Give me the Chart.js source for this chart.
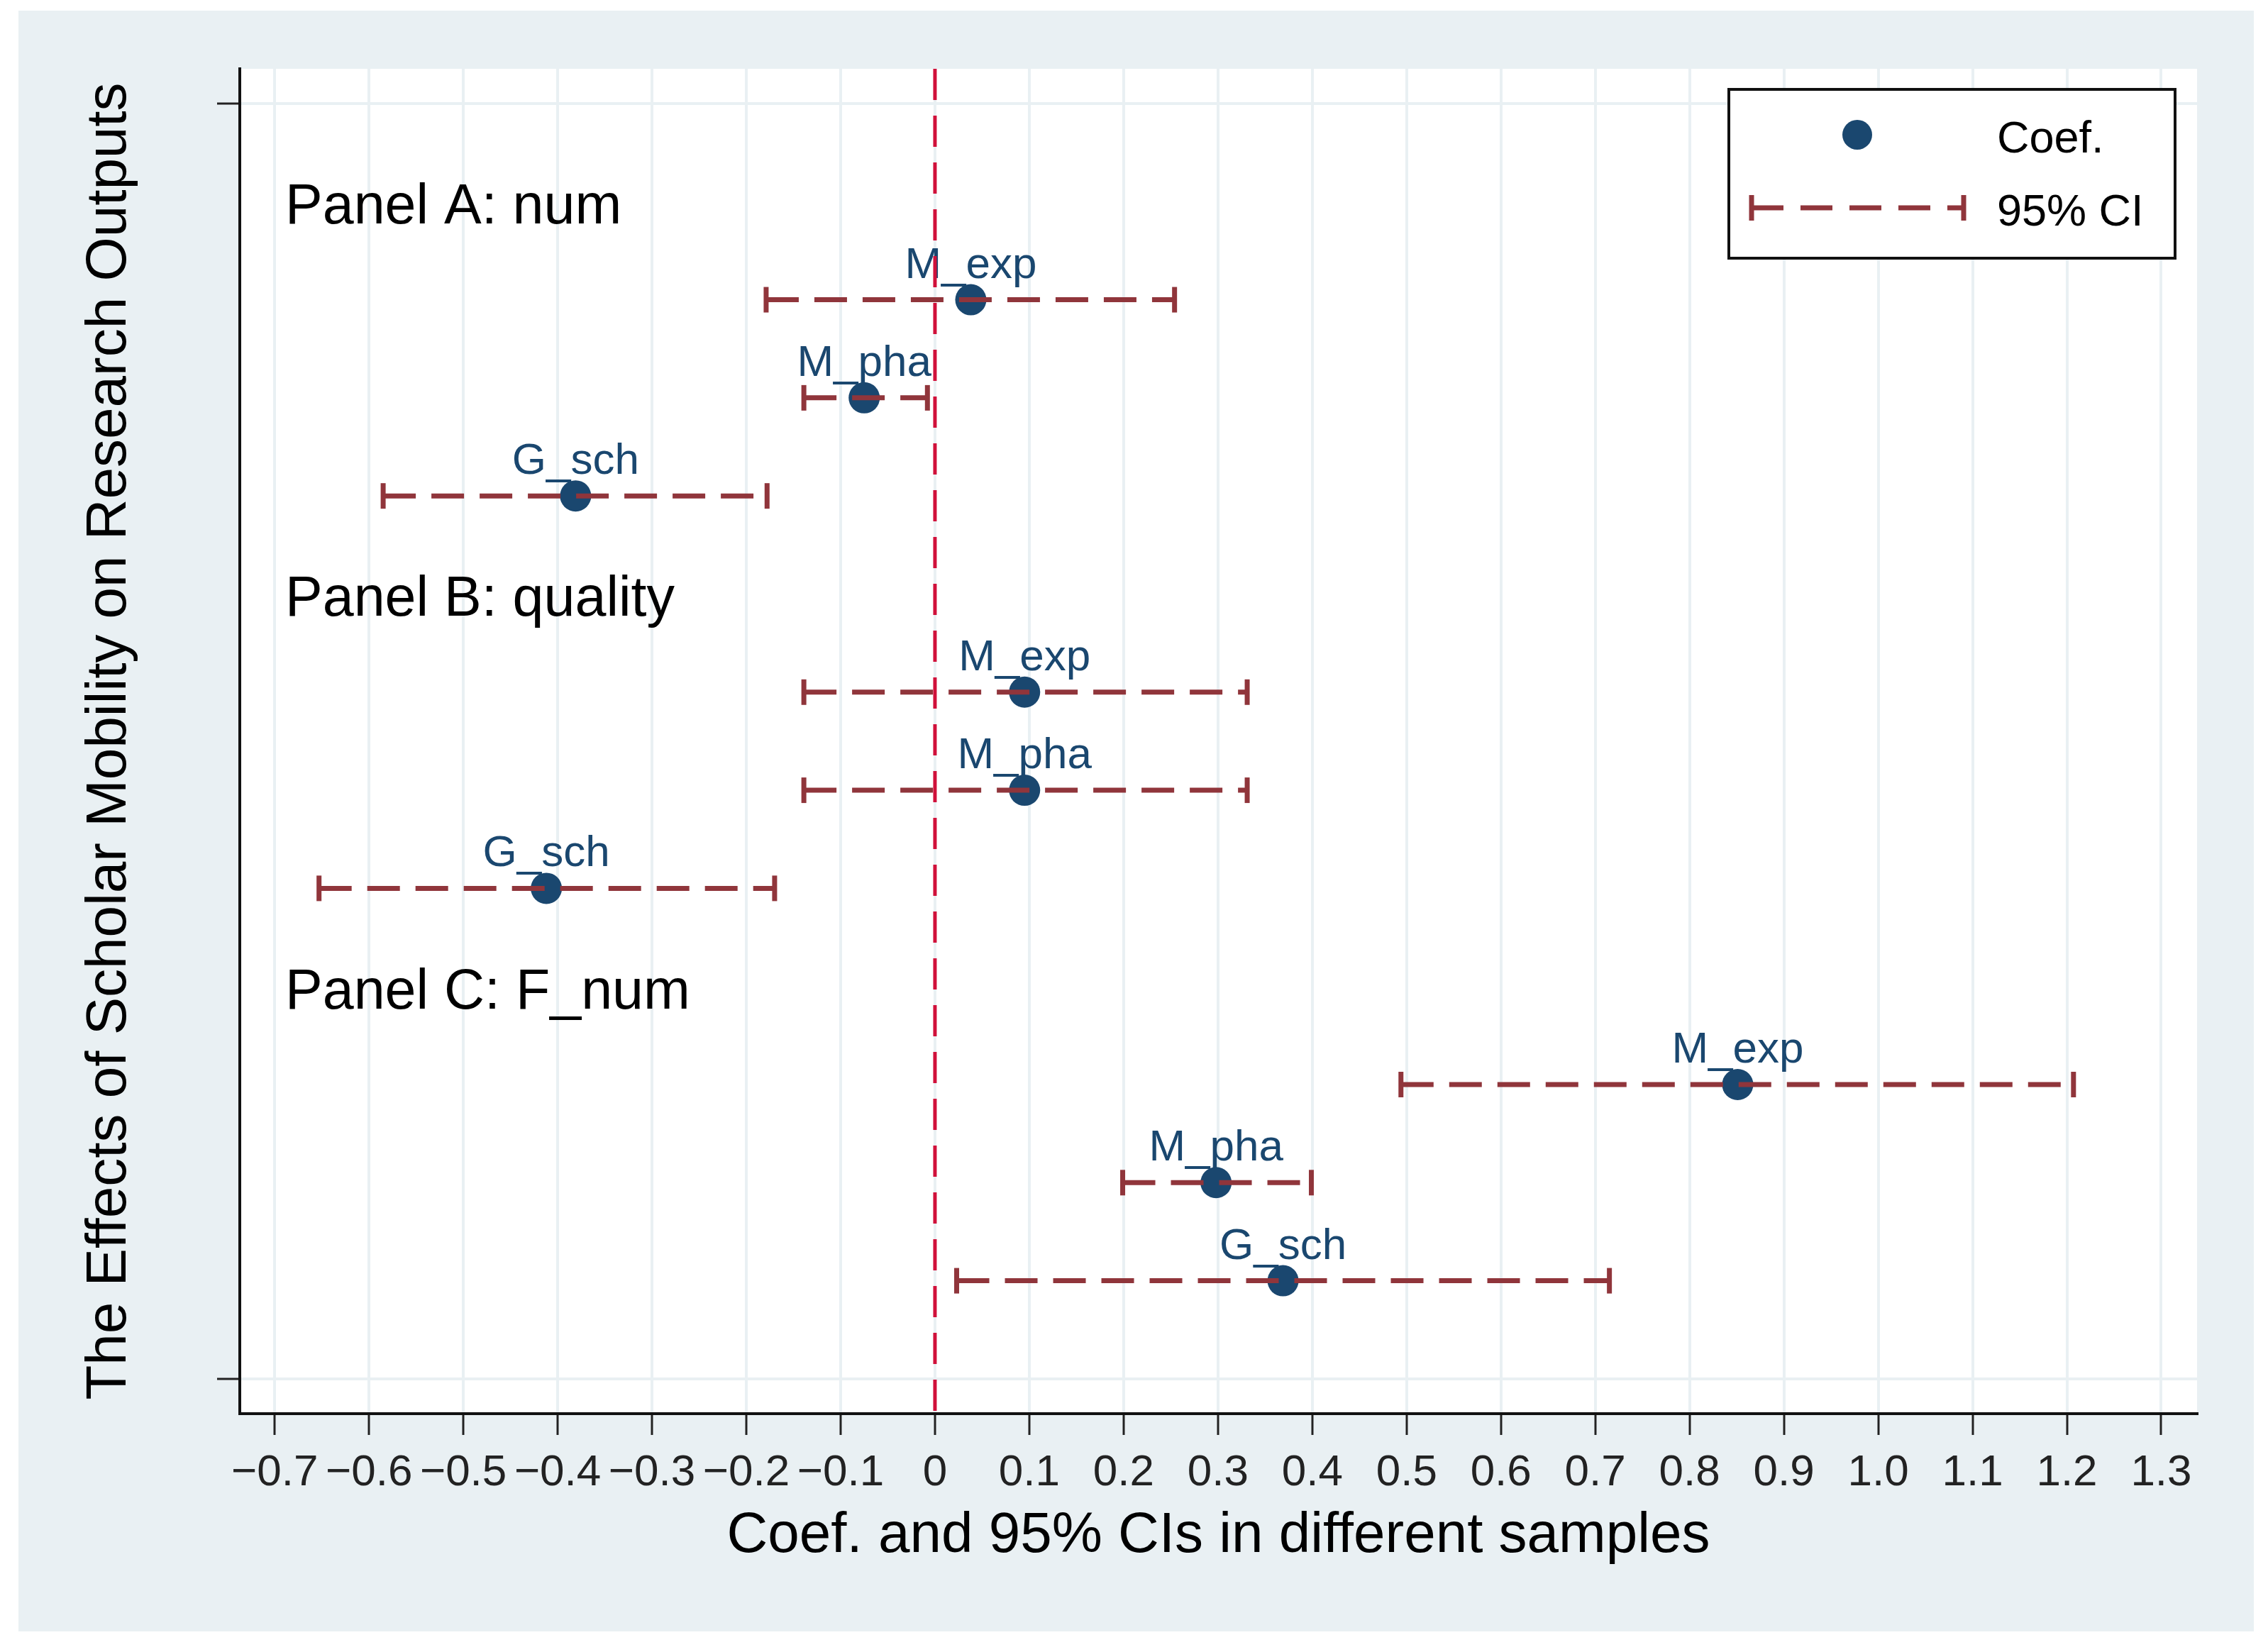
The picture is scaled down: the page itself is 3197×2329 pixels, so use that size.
<!DOCTYPE html>
<html>
<head>
<meta charset="utf-8">
<title>The Effects of Scholar Mobility on Research Outputs</title>
<script src="https://cdn.jsdelivr.net/npm/chart.js@4.4.1/dist/chart.umd.min.js"></script>
<style>
  html, body { margin: 0; padding: 0; background: #fff; }
  canvas { display: block; }
</style>
</head>
<body>
<canvas id="coefPlot" width="3197" height="2329" style="width:3197px;height:2329px"></canvas>
<script>
// COEFFICIENT PLOT - DATA

const panelTitles = ["Panel A: num", "Panel B: quality", "Panel C: F_num"];
const panelRows = [1, 5, 9];

const sampleLabels = ["M_exp", "M_pha", "G_sch", "M_exp", "M_pha", "G_sch", "M_exp", "M_pha", "G_sch"];
const sampleRows = [2, 3, 4, 6, 7, 8, 10, 11, 12];

const coef = [0.038, -0.075, -0.381, 0.095, 0.095, -0.412, 0.851, 0.298, 0.369];
const ciLow = [-0.179, -0.139, -0.585, -0.139, -0.139, -0.653, 0.494, 0.199, 0.023];
const ciHigh = [0.254, -0.008, -0.178, 0.331, 0.331, -0.170, 1.207, 0.399, 0.715];

const xTicks = [-0.7, -0.6, -0.5, -0.4, -0.3, -0.2, -0.1, 0, 0.1, 0.2, 0.3, 0.4, 0.5, 0.6, 0.7, 0.8, 0.9, 1.0, 1.1, 1.2, 1.3];
const yTicks = [0, 13];

// axis limits (Stata adds a little room beyond the outer ticks)
const xMin = -0.737, xMax = 1.338;
const yMin = -0.354, yMax = 13.355;

const FONT = "'Liberation Sans', Arial, Helvetica, sans-serif";
const navy = "#1a476f";
const ciRed = "#90353b";
const zeroRed = "#d0103a";
const gridColor = "#e9f0f3";
const bgColor = "#e9f0f3";

// CI segments, one dataset each
const ciSets = coef.map(function (c, i) {
    return {
        label: "95% CI",
        data: [{ x: ciLow[i], y: sampleRows[i] }, { x: ciHigh[i], y: sampleRows[i] }],
        showLine: true,
        borderColor: ciRed,
        borderWidth: 7,
        borderDash: [46, 22],
        pointStyle: "line",
        rotation: 90,
        pointRadius: 18,
        pointBorderWidth: 7,
        pointBorderColor: ciRed,
        pointBackgroundColor: ciRed,
        order: 1
    };
});

const coefSet = {
    label: "Coef.",
    data: coef.map(function (c, i) { return { x: c, y: sampleRows[i] }; }),
    pointRadius: 22,
    pointBackgroundColor: navy,
    pointBorderWidth: 0,
    showLine: false,
    order: 2
};

const zeroSet = {
    label: "zero",
    data: [{ x: 0, y: yMin }, { x: 0, y: yMax }],
    showLine: true,
    borderColor: zeroRed,
    borderWidth: 5,
    borderDash: [44, 22],
    pointRadius: 0,
    order: 0
};

// backgrounds, text labels and the boxed legend
const decorPlugin = {
    id: "decor",
    beforeDraw: function (chart) {
        const ctx = chart.ctx, a = chart.chartArea;
        ctx.save();
        ctx.fillStyle = "#fff";
        ctx.fillRect(0, 0, chart.width, chart.height);
        ctx.fillStyle = bgColor;
        ctx.fillRect(26, 15, chart.width - 46, chart.height - 44);
        ctx.fillStyle = "#fff";
        ctx.fillRect(a.left, a.top, a.right - a.left, a.bottom - a.top);
        ctx.restore();
    },
    beforeDatasetsDraw: function (chart) {
        const ctx = chart.ctx, xs = chart.scales.x, ys = chart.scales.y, a = chart.chartArea;
        ctx.save();
        ctx.textBaseline = "alphabetic";
        // panel headings
        ctx.fillStyle = "#000";
        ctx.font = "79px " + FONT;
        ctx.textAlign = "left";
        panelTitles.forEach(function (t, i) {
            ctx.fillText(t, a.left + 64, ys.getPixelForValue(panelRows[i]) + 31);
        });
        // marker labels above each coefficient
        ctx.fillStyle = navy;
        ctx.font = "62px " + FONT;
        ctx.textAlign = "center";
        sampleLabels.forEach(function (t, i) {
            ctx.fillText(t, xs.getPixelForValue(coef[i]), ys.getPixelForValue(sampleRows[i]) - 31);
        });
        ctx.restore();
    },
    afterDraw: function (chart) {
        const ctx = chart.ctx, a = chart.chartArea;
        const bx = a.right - 660, by = a.top + 29, bw = 629, bh = 238;
        ctx.save();
        ctx.fillStyle = "#fff";
        ctx.fillRect(bx, by, bw, bh);
        ctx.lineWidth = 4;
        ctx.strokeStyle = "#111";
        ctx.strokeRect(bx, by, bw, bh);
        // dot
        ctx.fillStyle = navy;
        ctx.beginPath();
        ctx.arc(bx + 181, by + 64, 21, 0, Math.PI * 2);
        ctx.fill();
        // dashed CI with caps
        const ly = by + 167, lx0 = bx + 32, lx1 = bx + 331;
        ctx.strokeStyle = ciRed;
        ctx.lineWidth = 7;
        ctx.setLineDash([45, 24]);
        ctx.beginPath();
        ctx.moveTo(lx0, ly);
        ctx.lineTo(lx1, ly);
        ctx.stroke();
        ctx.setLineDash([]);
        ctx.beginPath();
        ctx.moveTo(lx0, ly - 18); ctx.lineTo(lx0, ly + 18);
        ctx.moveTo(lx1, ly - 18); ctx.lineTo(lx1, ly + 18);
        ctx.stroke();
        // text
        ctx.fillStyle = "#000";
        ctx.font = "63px " + FONT;
        ctx.textAlign = "left";
        ctx.textBaseline = "alphabetic";
        ctx.fillText("Coef.", bx + 378, by + 89);
        ctx.fillText("95% CI", bx + 378, by + 192);
        ctx.restore();
    }
};

const coefDiv = document.getElementById("coefPlot");

const coefChart = new Chart(coefDiv, {
    type: "scatter",
    data: { datasets: [coefSet].concat(ciSets).concat([zeroSet]) },
    options: {
        responsive: false,
        devicePixelRatio: 1,
        animation: false,
        layout: { padding: { left: 26, top: 97, right: 100, bottom: 29 } },
        plugins: {
            legend: { display: false },
            tooltip: { enabled: false }
        },
        scales: {
            x: {
                type: "linear",
                position: "bottom",
                min: xMin,
                max: xMax,
                afterBuildTicks: function (scale) {
                    scale.ticks = xTicks.map(function (v) { return { value: v }; });
                },
                afterFit: function (scale) { scale.height = 307; },
                ticks: {
                    autoSkip: false,
                    maxRotation: 0,
                    minRotation: 0,
                    padding: 17,
                    color: "#222",
                    font: { family: FONT, size: 62, lineHeight: 1.2 },
                    callback: function (v) {
                        if (Math.abs(v) < 1e-9) return "0";
                        return (v < 0 ? "\u2212" : "") + Math.abs(v).toFixed(1);
                    }
                },
                grid: {
                    color: gridColor,
                    lineWidth: 4,
                    drawTicks: true,
                    tickLength: 30,
                    tickColor: "#222",
                    tickWidth: 3
                },
                border: { display: true, color: "#111", width: 4 },
                title: {
                    display: true,
                    text: "Coef. and 95% CIs in different samples",
                    color: "#000",
                    font: { family: FONT, size: 80, lineHeight: 1.2 },
                    padding: { top: 0, bottom: 86 }
                }
            },
            y: {
                type: "linear",
                position: "left",
                reverse: true,
                min: yMin,
                max: yMax,
                afterBuildTicks: function (scale) {
                    scale.ticks = yTicks.map(function (v) { return { value: v }; });
                },
                afterFit: function (scale) { scale.width = 312; },
                ticks: { display: false },
                grid: {
                    color: gridColor,
                    lineWidth: 4,
                    drawTicks: true,
                    tickLength: 32,
                    tickColor: "#222",
                    tickWidth: 3
                },
                border: { display: true, color: "#111", width: 4 },
                title: {
                    display: true,
                    text: "The Effects of Scholar Mobility on Research Outputs",
                    color: "#000",
                    font: { family: FONT, size: 80, lineHeight: 1.2 },
                    padding: { top: 81, bottom: 0 }
                }
            }
        }
    },
    plugins: [decorPlugin]
});
</script>
</body>
</html>
